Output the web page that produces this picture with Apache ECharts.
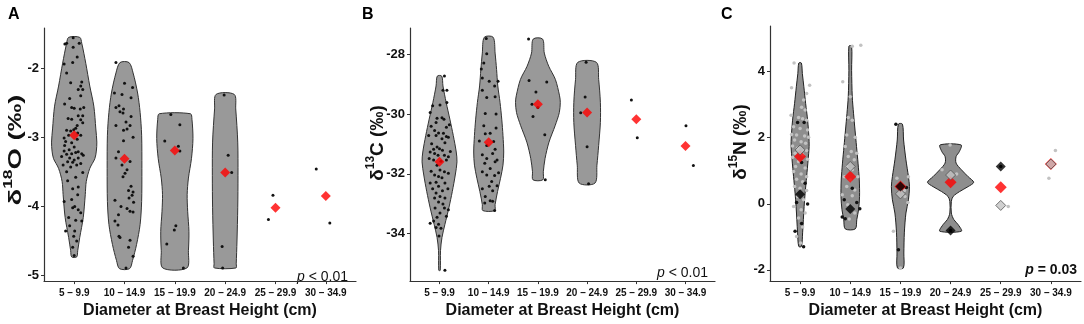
<!DOCTYPE html>
<html>
<head>
<meta charset="utf-8">
<script src="https://cdn.jsdelivr.net/npm/echarts@6/dist/echarts.min.js"></script>
<style>
html, body { margin: 0; padding: 0; background: #fff; }
#main { width: 1084px; height: 324px; }
</style>
</head>
<body>
<div id="main"></div>
<script>
var FONT = '"Liberation Sans", Arial, sans-serif';
var cats = ['5 – 9.9', '10 – 14.9', '15 – 19.9', '20 – 24.9', '25 – 29.9', '30 – 34.9'];
var catTicks = [1, 2, 3, 4, 5, 6];

// ---- panel A : d18O ----
// points [category + jitter, value]
var aPoints = [
  [0.815,-1.65],[0.98,-1.70],[1.06,-1.84],[0.80,-1.94],[0.97,-1.92],[0.85,-2.07],[0.93,-2.21],[1.15,-2.20],
  [1.13,-2.26],[1.08,-2.31],[1.17,-2.31],[0.91,-2.44],[1.13,-2.40],[0.81,-2.52],[0.95,-2.57],[1.0,-2.58],
  [1.12,-2.59],[1.19,-2.57],[0.88,-2.73],[0.95,-2.74],[1.08,-2.69],[1.17,-2.69],[1.13,-2.745],[1.06,-2.83],
  [1.17,-2.79],[1.03,-2.87],[0.85,-2.90],[0.93,-2.91],[0.99,-2.89],[0.89,-2.97],[1.07,-2.94],[0.80,-3.01],
  [0.83,-3.06],[0.95,-3.08],[1.06,-3.03],[1.13,-2.97],[0.81,-3.12],[1.0,-3.14],[0.90,-3.18],[0.80,-3.20],
  [0.85,-3.245],[0.95,-3.24],[1.03,-3.22],[1.08,-3.21],[1.15,-3.24],[1.18,-3.26],[0.75,-3.28],[0.91,-3.30],
  [1.0,-3.33],[1.08,-3.30],[0.87,-3.355],[0.97,-3.36],[1.05,-3.40],[1.13,-3.38],[0.78,-3.40],[0.93,-3.43],
  [0.85,-3.50],[1.17,-3.51],[1.03,-3.58],[0.87,-3.63],[1.08,-3.72],[0.97,-3.745],[1.07,-3.83],[0.80,-3.93],
  [0.95,-3.90],[1.01,-4.0],[1.08,-4.05],[0.97,-4.02],[1.13,-4.09],[0.89,-4.16],[1.03,-4.20],[1.15,-4.21],
  [0.91,-4.28],[1.01,-4.355],[0.83,-4.355],[0.99,-4.43],[1.05,-4.50],[0.97,-4.59],[1.0,-4.71],[0.98,-1.56],
  [0.85,-1.64],[1.10,-1.64],
  [1.83,-1.92],[2.0,-2.22],[2.16,-2.28],[1.80,-2.36],[1.95,-2.38],[2.13,-2.43],[1.83,-2.57],[1.89,-2.545],
  [1.98,-2.59],[1.91,-2.63],[1.97,-2.65],[2.13,-2.70],[2.03,-2.78],[1.83,-2.83],[2.11,-2.83],[1.98,-2.90],
  [2.05,-2.88],[2.17,-3.0],[1.98,-3.05],[1.88,-3.21],[1.83,-3.30],[2.11,-3.35],[1.95,-3.40],[2.05,-3.47],
  [2.01,-3.52],[1.97,-3.57],[2.13,-3.71],[2.08,-3.77],[2.17,-3.79],[2.15,-3.84],[2.09,-3.88],[1.81,-3.91],
  [2.18,-3.94],[1.93,-4.0],[2.05,-4.03],[2.11,-4.07],[2.17,-4.08],[1.88,-4.12],[1.81,-4.21],[1.87,-4.27],
  [1.91,-4.45],[1.89,-4.43],[2.08,-4.59],[2.11,-4.49],[2.03,-4.89],[2.17,-4.72],
  [2.92,-2.67],[3.10,-2.82],[2.80,-3.055],[3.07,-3.13],[3.10,-3.20],[3.02,-4.28],[2.99,-4.34],[2.84,-4.545],[3.17,-4.89],
  [3.98,-2.39],[4.06,-3.26],[4.13,-3.51],[3.94,-4.58],[3.95,-4.89],
  [4.95,-3.84],[4.86,-4.19],
  [5.81,-3.46],[6.08,-4.24]
];
var aMeans = [-2.97, -3.31, -3.19, -3.51, -4.02, -3.85];
// violin outlines: [value, half width in category units]
var aViolin1 = [[-1.555,0.11],[-1.64,0.15],[-1.93,0.23],[-2.26,0.31],[-2.55,0.39],[-2.88,0.43],[-3.07,0.45],[-3.20,0.44],[-3.31,0.41],[-3.45,0.31],[-3.64,0.24],[-3.83,0.22],[-4.16,0.18],[-4.45,0.11],[-4.64,0.07],[-4.73,0.05]];
var aViolin2 = [[-1.92,0.09],[-2.07,0.17],[-2.36,0.26],[-2.64,0.31],[-2.97,0.34],[-3.45,0.345],[-3.93,0.34],[-4.26,0.31],[-4.55,0.24],[-4.78,0.16],[-4.90,0.10]];
var aViolin3 = [[-2.66,0.31],[-2.74,0.34],[-3.02,0.36],[-3.31,0.33],[-3.59,0.27],[-3.83,0.245],[-4.07,0.255],[-4.36,0.28],[-4.64,0.27],[-4.89,0.24]];
var aViolin4 = [[-2.38,0.18],[-2.59,0.21],[-3.07,0.25],[-3.55,0.255],[-4.02,0.25],[-4.50,0.235],[-4.83,0.22],[-4.89,0.215]];

// ---- panel B : d13C ----
var bPoints = [
  [1.10,-28.73],[1.15,-29.20],[1.07,-29.20],[1.15,-29.61],[0.86,-29.725],[1.01,-29.70],[0.81,-29.95],[0.95,-30.14],
  [1.05,-30.12],[1.09,-30.17],[0.93,-30.28],[0.83,-30.41],[1.20,-30.36],[1.14,-30.44],[0.90,-30.55],[0.98,-30.63],
  [1.08,-30.64],[0.78,-30.72],[0.93,-30.72],[1.14,-30.75],[1.18,-30.78],[1.05,-30.83],[0.84,-30.99],[1.11,-30.96],
  [0.95,-31.10],[0.88,-31.18],[1.0,-31.16],[0.81,-31.27],[1.06,-31.21],[1.22,-31.25],[0.90,-31.32],[0.97,-31.38],
  [1.10,-31.38],[1.18,-31.43],[0.79,-31.49],[0.88,-31.54],[1.03,-31.58],[1.14,-31.54],[0.95,-31.71],[0.83,-31.91],
  [1.01,-31.87],[1.10,-31.93],[1.18,-31.98],[0.90,-32.04],[0.98,-32.09],[1.05,-32.13],[0.93,-32.28],[0.81,-32.31],
  [1.11,-32.31],[0.98,-32.42],[0.86,-32.50],[1.06,-32.57],[1.17,-32.50],[0.93,-32.645],[1.01,-32.76],[0.90,-32.81],
  [1.11,-32.81],[0.98,-32.94],[1.07,-33.01],[0.91,-33.14],[1.10,-33.14],[1.18,-33.20],[1.01,-33.31],[0.95,-33.45],
  [1.14,-33.42],[0.88,-33.58],[0.98,-33.69],[0.93,-33.80],[0.81,-33.65],[1.03,-33.82],[0.99,-34.08],[1.11,-35.23],
  [1.95,-27.47],[1.96,-27.98],[1.90,-28.29],[1.85,-28.49],[1.87,-28.79],[2.01,-28.90],[2.19,-28.90],[1.87,-29.20],
  [2.12,-29.06],[1.96,-29.45],[2.13,-29.42],[1.93,-29.98],[2.15,-30.0],[1.90,-30.39],[2.15,-30.47],[1.93,-30.66],
  [2.03,-30.64],[1.81,-30.90],[2.10,-30.915],[1.96,-31.05],[2.13,-31.18],[1.87,-31.36],[2.08,-31.32],[1.96,-31.49],
  [2.17,-31.54],[1.92,-31.65],[2.13,-31.60],[2.03,-31.82],[1.87,-31.93],[2.20,-31.96],[1.96,-32.04],[2.12,-32.06],
  [2.06,-32.26],[2.01,-32.42],[1.87,-32.50],[2.17,-32.40],[2.08,-32.57],[1.93,-32.76],[2.03,-32.90],[1.92,-32.98],
  [2.08,-32.92],[2.12,-33.23],
  [2.81,-27.49],[2.82,-28.88],[3.18,-28.93],[2.96,-29.26],[2.88,-29.67],[3.0,-29.78],[2.90,-30.08],[3.14,-30.69],[3.15,-32.20],
  [3.98,-28.27],[3.96,-29.43],[3.87,-29.96],[4.0,-31.09],[4.03,-32.33],
  [4.90,-29.53],[5.02,-30.79],
  [6.01,-30.39],[6.16,-31.72]
];
var bMeans = [-31.60, -30.94, -29.67, -29.95, -30.17, -31.07];
var bViolin1 = [[-28.73,0.045],[-29.06,0.07],[-29.61,0.135],[-30.17,0.21],[-30.72,0.28],[-31.27,0.34],[-31.60,0.355],[-32.04,0.32],[-32.59,0.26],[-33.14,0.19],[-33.69,0.11],[-34.13,0.05],[-34.57,0.02],[-35.23,0.015]];
var bViolin2 = [[-27.43,0.09],[-27.96,0.13],[-28.51,0.16],[-29.06,0.185],[-29.61,0.23],[-30.17,0.265],[-30.72,0.29],[-31.27,0.305],[-31.71,0.29],[-32.15,0.24],[-32.59,0.18],[-33.03,0.13],[-33.23,0.12]];
var bViolin3 = [[-27.49,0.095],[-27.96,0.13],[-28.40,0.22],[-28.84,0.355],[-29.39,0.44],[-29.61,0.455],[-29.95,0.435],[-30.39,0.35],[-30.94,0.225],[-31.49,0.145],[-31.93,0.11],[-32.20,0.10]];
var bViolin4 = [[-28.27,0.19],[-28.84,0.235],[-29.61,0.27],[-30.28,0.27],[-31.05,0.235],[-31.71,0.20],[-32.31,0.16]];

// ---- panel C : d15N ----
var cGrayPoints = [
  [0.88,4.26],[0.83,3.51],[1.19,3.59],[1.13,3.34],[1.07,3.14],[1.03,2.92],[1.10,2.84],[0.82,2.68],[0.97,2.61],
  [1.05,2.57],[1.13,2.53],[0.87,2.33],[1.0,2.28],[1.15,2.23],[0.83,2.10],[0.93,2.08],[1.09,2.05],[1.17,2.01],
  [0.89,1.93],[1.02,1.88],[1.11,1.83],[0.85,1.75],[0.95,1.68],[1.13,1.61],[0.90,1.53],[1.05,1.48],[0.85,1.41],
  [1.15,1.35],[0.97,1.28],[0.91,1.13],[1.10,1.08],[0.87,0.98],[1.02,0.90],[1.13,0.82],[0.93,0.74],[1.05,0.67],
  [0.89,0.52],[1.0,0.47],[1.13,0.40],[0.95,0.22],[1.07,0.12],[0.87,-0.08],[1.02,-0.18],[1.10,-0.28],[0.97,-0.43],
  [1.05,-0.70],[0.93,-0.99],[1.01,-1.19],
  [2.04,4.77],[2.21,4.80],[1.85,3.69],[2.0,3.24],[1.96,2.61],[2.04,2.53],[1.93,2.08],[2.10,2.01],[1.90,1.73],
  [2.02,1.58],[2.13,1.53],[1.96,1.43],[2.08,1.33],[1.93,1.13],[2.04,1.03],[1.88,0.82],[2.15,0.82],[2.0,0.72],
  [1.93,0.52],[2.09,0.42],[1.84,0.27],[2.04,0.24],[1.95,-0.03],[2.09,-0.28],[1.98,-0.46],
  [3.16,0.82],[3.09,0.22],[2.86,-0.83],[3.0,-1.94],[2.93,0.77],[3.08,0.40],[3.15,0.04],
  [3.99,1.78],[3.83,1.03],[4.12,0.90],
  [5.15,-0.08],
  [6.09,1.61],[5.96,0.77]
];
var cBlackPoints = [
  [0.95,2.46],[1.08,2.46],[1.03,1.25],[1.10,0.62],[0.93,0.04],[1.15,-0.01],[1.03,-0.60],[0.90,-0.83],[1.07,-1.30],
  [1.88,0.12],[1.84,-0.40],[1.90,-0.45],[2.04,0.47],[2.13,0.04],[2.19,-0.15],
  [2.91,2.41],[3.12,0.49],[2.96,-1.39],
  [4.0,-0.81],
  [5.0,1.13]
];
var cMeans = [1.43, 0.82, 0.52, 0.65, 0.50, 1.20];
var cGrayMeans = [1.63, 1.13, 0.30, 0.87, -0.05, 1.20];
var cBlackMeans = [0.29, -0.16, 0.52, -0.81, 1.13, null];
var cViolin1 = [[4.26,0.025],[3.94,0.045],[3.54,0.075],[3.04,0.11],[2.53,0.15],[2.03,0.175],[1.73,0.18],[1.33,0.16],[0.82,0.13],[0.32,0.10],[-0.08,0.08],[-0.48,0.065],[-0.88,0.05],[-1.29,0.027]];
var cViolin2 = [[4.77,0.027],[4.04,0.027],[3.24,0.04],[2.74,0.065],[2.23,0.095],[1.73,0.125],[1.23,0.155],[0.72,0.18],[0.22,0.185],[-0.18,0.165],[-0.48,0.13],[-0.76,0.10]];
var cViolin3 = [[2.41,0.04],[1.93,0.063],[1.33,0.11],[0.82,0.16],[0.52,0.18],[0.12,0.16],[-0.28,0.11],[-0.88,0.078],[-1.49,0.068],[-1.94,0.06]];
var cViolin4 = [[1.78,0.21],[1.58,0.175],[1.43,0.11],[1.23,0.11],[1.03,0.215],[0.82,0.35],[0.65,0.46],[0.52,0.35],[0.37,0.18],[0.22,0.05],[0.07,0.015],[-0.28,0.015],[-0.48,0.065],[-0.63,0.15],[-0.83,0.215]];

var chart = echarts.init(document.getElementById('main'));

function xAx(gi) {
  return {
    type: 'value', gridIndex: gi, min: 0.4, max: 6.6,
    splitLine: { show: false },
    axisLine: { onZero: false, lineStyle: { color: '#333', width: 1.2 } },
    axisTick: { customValues: catTicks, length: 3, lineStyle: { color: '#333' } },
    axisLabel: {
      customValues: catTicks, margin: 7, fontSize: 10, fontWeight: 'bold', color: '#111', fontFamily: FONT,
      formatter: function (v) { return cats[Math.round(v) - 1]; }
    },
    name: 'Diameter at Breast Height (cm)', nameLocation: 'middle', nameGap: 19,
    nameTextStyle: { fontSize: 16, fontWeight: 'bold', color: '#111', fontFamily: FONT }
  };
}
function yAx(gi, min, max, ticks) {
  return {
    type: 'value', gridIndex: gi, min: min, max: max,
    splitLine: { show: false },
    axisLine: { show: true, onZero: false, lineStyle: { color: '#333', width: 1.2 } },
    axisTick: { show: true, customValues: ticks, length: 3, lineStyle: { color: '#333' } },
    axisLabel: { customValues: ticks, margin: 5, fontSize: 13, fontWeight: 'bold', color: '#111', fontFamily: FONT }
  };
}
function violins(gi, profiles, fill, stroke) {
  return {
    type: 'custom', xAxisIndex: gi, yAxisIndex: gi, silent: true, z: 1,
    data: profiles.map(function (p, i) { return [i + 1, p[0][0]]; }),
    renderItem: function (params, api) {
      var c = api.value(0);
      var prof = profiles[params.dataIndex];
      var right = prof.map(function (d) { return api.coord([c + d[1], d[0]]); });
      var left = prof.slice().reverse().map(function (d) { return api.coord([c - d[1], d[0]]); });
      return {
        type: 'polygon',
        shape: { points: right.concat(left), smooth: 0.3 },
        style: { fill: fill, stroke: stroke, lineWidth: 1 }
      };
    }
  };
}
function dots(gi, data, color, size, z) {
  return { type: 'scatter', xAxisIndex: gi, yAxisIndex: gi, data: data, symbolSize: size, silent: true, z: z,
    itemStyle: { color: color, opacity: 1 } };
}
function means(gi, vals, size, style, z) {
  var data = [];
  vals.forEach(function (v, i) { if (v !== null) data.push([i + 1, v]); });
  return { type: 'scatter', xAxisIndex: gi, yAxisIndex: gi, data: data, symbol: 'diamond', symbolSize: size,
    silent: true, z: z, itemStyle: style };
}
function yTitle(x, y, sup, rest, sx) {
  return {
    type: 'text', x: x, y: y, rotation: Math.PI / 2, scaleX: sx, silent: true,
    style: {
      text: '{m|δ}{s|' + sup + '}{m|' + rest + '}', align: 'center', verticalAlign: 'middle',
      rich: {
        m: { fontSize: 19, fontWeight: 'bold', fontFamily: FONT, fill: '#111', lineHeight: 22, verticalAlign: 'bottom' },
        s: { fontSize: 12, fontWeight: 'bold', fontFamily: FONT, fill: '#111', lineHeight: 22, verticalAlign: 'top' }
      }
    }
  };
}
function pText(x, y, rest, weight) {
  return {
    type: 'text', x: x, y: y, silent: true,
    style: {
      text: '{i|p}{n|' + rest + '}', align: 'right', verticalAlign: 'middle',
      rich: {
        i: { fontSize: 14, fontStyle: 'italic', fontWeight: weight, fontFamily: FONT, fill: '#111' },
        n: { fontSize: 14, fontWeight: weight, fontFamily: FONT, fill: '#111' }
      }
    }
  };
}
function letter(x, t) {
  return { type: 'text', left: x, top: 7, silent: true,
    style: { text: t, fontSize: 16, fontWeight: 'bold', fontFamily: FONT, fill: '#000' } };
}

var redStyle = { color: '#ff0000' };
var grayStyle = { color: '#c4c4c4', borderColor: '#555', borderWidth: 1 };
var blackStyle = { color: '#000' };

chart.setOption({
  animation: false,
  backgroundColor: '#fff',
  grid: [
    { left: 44, top: 28, width: 312, height: 256 },
    { left: 410, top: 28, width: 305, height: 256 },
    { left: 770, top: 26, width: 311, height: 256 }
  ],
  xAxis: [xAx(0), xAx(1), xAx(2)],
  yAxis: [
    yAx(0, -5.08, -1.42, [-5, -4, -3, -2]),
    yAx(1, -35.59, -27.12, [-34, -32, -30, -28]),
    yAx(2, -2.34, 5.38, [-2, 0, 2, 4])
  ],
  series: [
    violins(0, [aViolin1, aViolin2, aViolin3, aViolin4], '#999999', '#333'),
    dots(0, aPoints, '#111', 3, 2),
    means(0, aMeans, 10, redStyle, 3),
    violins(1, [bViolin1, bViolin2, bViolin3, bViolin4], '#999999', '#333'),
    dots(1, bPoints, '#111', 3, 2),
    means(1, bMeans, 10, redStyle, 3),
    violins(2, [cViolin1, cViolin2, cViolin3, cViolin4], '#8e8e8e', '#222'),
    dots(2, cGrayPoints, '#c2c2c2', 3.5, 2),
    dots(2, cBlackPoints, '#111', 3.5, 2),
    means(2, cMeans, 12, redStyle, 3),
    means(2, cGrayMeans, 10, grayStyle, 4),
    means(2, cBlackMeans, 10, blackStyle, 5)
  ],
  graphic: [
    letter(8, 'A'), letter(362, 'B'), letter(721, 'C'),
    yTitle(14, 150, '18', 'O (‰)', 1.45),
    yTitle(376, 143, '13', 'C (‰)', 1.0),
    yTitle(739, 142, '15', 'N (‰)', 1.0),
    pText(348, 277, ' < 0.01', 'normal'),
    pText(708, 273, ' < 0.01', 'normal'),
    pText(1077, 270, ' = 0.03', 'bold')
  ]
});
</script>
</body>
</html>
